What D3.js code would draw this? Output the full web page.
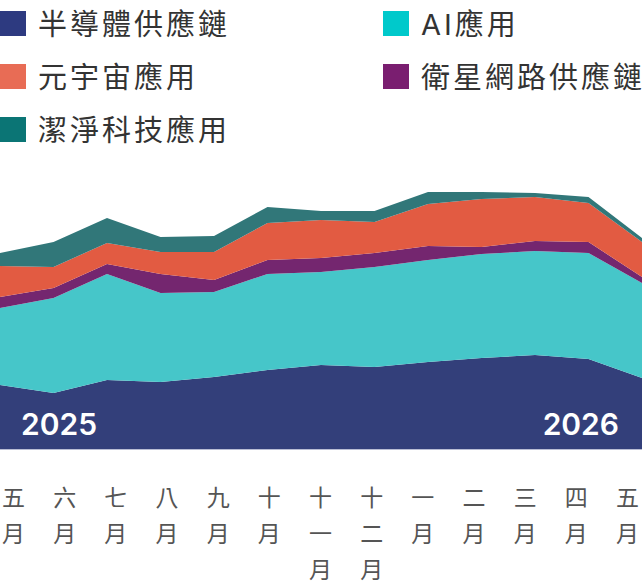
<!DOCTYPE html>
<html>
<head>
<meta charset="utf-8">
<script src="https://cdn.jsdelivr.net/npm/d3@7"></script>
<style>
  body { margin: 0; background: #fff; }
  text { font-family: "Noto Sans CJK TC", "Noto Sans", sans-serif; }
</style>
</head>
<body>
<div id="chart"></div>
<script>
// month labels (May 2025 -> May 2026)
const months = ["五月", "六月", "七月", "八月", "九月", "十月", "十一月", "十二月", "一月", "二月", "三月", "四月", "五月"];
const yearLabels = ["2025", "2026"];

// series values, stacked bottom to top
const semiconductor = [64, 56, 69, 67, 72, 79, 84, 82, 87, 91, 94, 90, 71];
const ai = [77, 95, 106, 89, 85, 96, 93, 100, 102, 104, 104, 106, 95];
const satellite = [11, 10, 10, 19, 12, 14, 14, 14, 14, 7, 10, 11, 6];
const metaverse = [31, 21, 21, 22, 28, 37, 38, 31, 42, 48, 44, 39, 35];
const cleantech = [13, 25, 25, 15, 16, 16, 9, 11, 12, 7, 4, 6, 4];

const seriesNames = ["半導體供應鏈", "AI應用", "衛星網路供應鏈", "元宇宙應用", "潔淨科技應用"];
const areaColors = ["#333f7a", "#46c6c9", "#74266f", "#e25b42", "#317779"];
const legendColors = ["#2d3a80", "#00c9cb", "#7a1e70", "#e86c55", "#0b7575"];
// legend grid slot for each series: [column, row]
const legendSlots = [[0, 0], [1, 0], [1, 1], [0, 1], [0, 2]];

const width = 644, height = 581;

const svg = d3.select("#chart")
  .append("svg")
  .attr("width", width)
  .attr("height", height);

// build table for the stack
const keys = ["semiconductor", "ai", "satellite", "metaverse", "cleantech"];
const values = [semiconductor, ai, satellite, metaverse, cleantech];
const data = months.map((m, i) => {
  const row = { i: i };
  keys.forEach((k, j) => row[k] = values[j][i]);
  return row;
});

const stacked = d3.stack().keys(keys)(data);

const x = d3.scaleLinear()
  .domain([0, months.length - 1])
  .range([0, 642]);

const y = d3.scaleLinear()
  .domain([0, 260])
  .range([449, 189]);

const area = d3.area()
  .x(d => x(d.data.i))
  .y0(d => y(d[0]))
  .y1(d => y(d[1]));

svg.append("g")
  .selectAll("path")
  .data(stacked)
  .enter().append("path")
  .attr("d", area)
  .attr("fill", (d, i) => areaColors[i]);

// thin base line under the areas
svg.append("line")
  .attr("x1", 0).attr("x2", 642)
  .attr("y1", 449.5).attr("y2", 449.5)
  .attr("stroke", "#b9bdd4")
  .attr("stroke-width", 1);

// year labels inside the chart
svg.append("text")
  .attr("x", 21).attr("y", 435)
  .attr("fill", "#fff")
  .style("font-family", "Inter, sans-serif")
  .style("font-size", "30px")
  .style("font-weight", 600)
  .text(yearLabels[0]);

svg.append("text")
  .attr("x", 619).attr("y", 435)
  .attr("text-anchor", "end")
  .attr("fill", "#fff")
  .style("font-family", "Inter, sans-serif")
  .style("font-size", "30px")
  .style("font-weight", 600)
  .text(yearLabels[1]);

// month axis, labels written vertically one character per line
const xLabel = d3.scalePoint()
  .domain(d3.range(months.length))
  .range([13, 627]);

const axis = svg.append("g")
  .attr("transform", "translate(0, 484)")
  .call(d3.axisBottom(xLabel).tickSize(0).tickFormat(i => months[i]));

axis.select(".domain").remove();
axis.selectAll("text")
  .attr("y", 0)
  .attr("dy", null)
  .style("font-family", "'Noto Sans CJK TC', sans-serif")
  .style("font-size", "23px")
  .attr("fill", "#555")
  .each(function (i) {
    const t = d3.select(this);
    t.text(null);
    Array.from(months[i]).forEach((ch, k) => {
      t.append("tspan")
        .attr("x", 0)
        .attr("y", 12 + k * 36)
        .attr("dominant-baseline", "central")
        .text(ch);
    });
  });

// legend
const legend = svg.append("g");
const item = legend.selectAll("g")
  .data(seriesNames)
  .enter().append("g")
  .attr("transform", (d, i) => `translate(${legendSlots[i][0] * 383}, ${legendSlots[i][1] * 53})`);

item.append("rect")
  .attr("x", 0).attr("y", 11)
  .attr("width", 26).attr("height", 25)
  .attr("fill", (d, i) => legendColors[i]);

item.append("text")
  .attr("x", 38).attr("y", 24)
  .attr("dominant-baseline", "central")
  .attr("fill", "#333")
  .style("font-family", "Inter, 'Noto Sans CJK TC', sans-serif")
  .style("font-size", "29px")
  .style("letter-spacing", "3px")
  .text(d => d);
</script>
</body>
</html>
